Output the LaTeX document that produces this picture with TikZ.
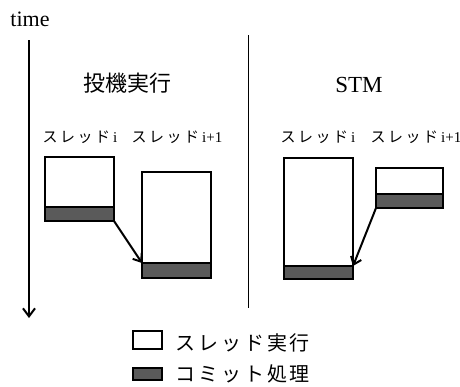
\documentclass[tikz,border=0pt]{standalone}
\usepackage{fontspec}
\setmainfont{Liberation Serif}
\newfontfamily\cjk{Noto Sans CJK JP}
\usetikzlibrary{arrows.meta}
\definecolor{cgray}{RGB}{90,90,90}
\newcommand\thrlabel[1]{{\cjk ス\kern2.5pt レ\kern2.5pt ッ\kern2.5pt ド}\kern3pt #1}
\tikzset{
  thrbox/.style={draw, line width=2.4pt, fill=white, minimum width=69pt, inner sep=0pt, outer sep=0pt, anchor=north west},
  cmtbox/.style={thrbox, fill=cgray},
  arr/.style={line width=2pt, -{Straight Barb[length=7pt,width=11pt,line width=2pt]}},
  lbl/.style={inner sep=0pt, anchor=base, font=\fontsize{15}{17}\selectfont},
  big/.style={inner sep=0pt, anchor=base, font=\fontsize{23}{26}\selectfont},
  leg/.style={inner sep=0pt, anchor=west, font=\fontsize{20}{22}\selectfont\cjk}
}
\begin{document}
\begin{tikzpicture}[x=1pt,y=-1pt]
\useasboundingbox (0,0) rectangle (460,386);
% time axis
\node[big, font=\fontsize{22}{24}\selectfont] (time) at (30,26) {time};
\coordinate (tA) at (29,40);
\coordinate (tB) at (29,318);
\draw[line width=2pt, -{Straight Barb[length=8pt,width=12pt,line width=2pt]}] (tA) -- (tB);
% divider
\coordinate (dA) at (248,35);
\coordinate (dB) at (248,308);
\draw[line width=0.9pt] (dA) -- (dB);
% titles
\node[big, font=\fontsize{22}{24}\selectfont\cjk] (t1) at (127,91) {投機実行};
\node[big] (t2) at (359,92) {STM};
% thread labels
\node[lbl] (l1) at (80,142) {\thrlabel{i}};
\node[lbl] (l2) at (177,142) {\thrlabel{i+1}};
\node[lbl] (l3) at (318,142) {\thrlabel{i}};
\node[lbl] (l4) at (416,142) {\thrlabel{i+1}};
% speculative execution
\node[thrbox, minimum height=50pt] (Lw1) at (45,157) {};
\node[cmtbox, minimum height=14pt] (Lc1) at (45,207) {};
\node[thrbox, minimum height=91pt] (Lw2) at (142,172) {};
\node[cmtbox, minimum height=15pt] (Lc2) at (142,263) {};
\draw[arr] (Lc1.south east) -- (Lc2.north west);
% STM
\node[thrbox, minimum height=108pt] (Rw1) at (284,158) {};
\node[cmtbox, minimum height=13pt] (Rc1) at (284,266) {};
\node[thrbox, minimum width=67pt, minimum height=26pt] (Rw2) at (376,168) {};
\node[cmtbox, minimum width=67pt, minimum height=14pt] (Rc2) at (376,194) {};
\draw[arr] (Rc2.south west) -- (Rc1.north east);
% legend
\node[thrbox, minimum width=29pt, minimum height=18pt] (gw) at (133,331) {};
\node[cmtbox, minimum width=29pt, minimum height=12pt] (gc) at (133,368) {};
\node[leg] (gwt) at (175,343) {ス\kern3pt レ\kern3pt ッ\kern3pt ド\kern3pt 実\kern2pt 行};
\node[leg] (gct) at (175,374) {コ\kern3pt ミ\kern3pt ッ\kern3pt ト\kern3pt 処\kern2pt 理};
\end{tikzpicture}
\end{document}
